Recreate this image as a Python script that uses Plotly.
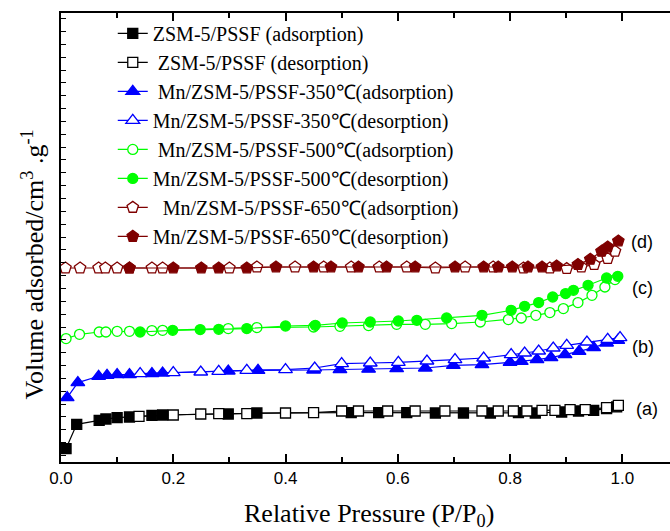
import plotly.graph_objects as go

# N2 adsorption-desorption isotherms (curves offset vertically for clarity)

# (a) ZSM-5/PSSF
a_ads_p = [0.009, 0.028, 0.068, 0.080, 0.100, 0.122, 0.162, 0.181, 0.298, 0.349, 0.517, 0.566,
           0.616, 0.667, 0.717, 0.765, 0.815, 0.845, 0.892, 0.922, 0.949, 0.972, 0.990]
a_ads_v = [13.4, 37.7, 41.7, 43.0, 44.4, 45.0, 46.7, 47.0, 48.0, 49.0, 49.4, 49.4,
           49.4, 49.0, 49.0, 49.0, 49.4, 49.0, 50.0, 51.0, 51.7, 53.4, 55.2]
a_des_p = [0.993, 0.972, 0.934, 0.907, 0.880, 0.857, 0.830, 0.806, 0.779, 0.750, 0.684,
           0.631, 0.582, 0.530, 0.500, 0.450, 0.400, 0.331, 0.281, 0.249, 0.200, 0.139]
a_des_v = [56.7, 54.4, 52.4, 52.4, 51.7, 51.7, 51.0, 51.0, 51.0, 51.0, 51.0,
           51.0, 51.0, 51.0, 51.0, 49.4, 49.0, 48.4, 48.4, 48.0, 47.0, 45.7]

# (b) Mn/ZSM-5/PSSF-350℃
b_ads_p = [0.011, 0.030, 0.067, 0.082, 0.100, 0.122, 0.162, 0.181, 0.298, 0.351, 0.450, 0.497, 0.548,
           0.598, 0.649, 0.699, 0.750, 0.800, 0.820, 0.848, 0.873, 0.898, 0.923, 0.949, 0.972, 0.992]
b_ads_v = [64.4, 79.4, 85.7, 86.7, 87.4, 87.4, 88.4, 89.0, 91.0, 91.7, 92.0, 92.4, 92.8,
           93.4, 94.0, 96.7, 97.4, 99.7, 100.7, 102.4, 104.4, 107.4, 110.7, 114.4, 119.0, 121.7]
b_des_p = [0.996, 0.974, 0.937, 0.901, 0.877, 0.851, 0.826, 0.802, 0.753, 0.702, 0.652,
           0.601, 0.551, 0.500, 0.452, 0.400, 0.331, 0.281, 0.249, 0.200, 0.141]
b_des_v = [124.4, 122.7, 120.0, 116.7, 114.0, 111.0, 109.0, 107.4, 104.0, 102.4, 101.0,
           99.7, 99.0, 98.4, 94.0, 92.4, 91.7, 90.7, 90.0, 89.4, 88.4]

# (c) Mn/ZSM-5/PSSF-500℃
c_ads_p = [0.009, 0.033, 0.068, 0.080, 0.100, 0.122, 0.162, 0.181, 0.298, 0.349, 0.450, 0.497, 0.548,
           0.598, 0.649, 0.696, 0.747, 0.797, 0.820, 0.846, 0.871, 0.895, 0.921, 0.946, 0.969, 0.987]
c_ads_v = [123.4, 127.7, 130.0, 130.0, 130.7, 130.7, 131.4, 131.7, 133.4, 134.4, 135.0, 135.7, 136.4,
           137.7, 137.7, 138.4, 140.0, 142.4, 144.0, 146.7, 149.4, 153.4, 159.4, 166.7, 175.0, 182.4]
c_des_p = [0.992, 0.972, 0.939, 0.913, 0.899, 0.876, 0.851, 0.826, 0.802, 0.750, 0.687,
           0.634, 0.601, 0.551, 0.501, 0.453, 0.400, 0.331, 0.281, 0.248, 0.199, 0.141]
c_des_v = [185.7, 184.0, 176.7, 171.7, 168.4, 165.0, 159.4, 155.7, 151.7, 146.7, 144.0,
           141.7, 141.0, 140.0, 139.0, 136.7, 136.0, 133.4, 132.7, 132.4, 131.7, 130.0]

# (d) Mn/ZSM-5/PSSF-650℃
d_ads_p = [0.008, 0.034, 0.067, 0.079, 0.100, 0.122, 0.162, 0.181, 0.300, 0.349, 0.417, 0.468, 0.517,
           0.567, 0.616, 0.667, 0.720, 0.770, 0.824, 0.871, 0.901, 0.927, 0.950, 0.974, 0.987]
d_ads_v = [194.0, 194.0, 194.0, 194.0, 194.0, 194.0, 194.0, 194.0, 194.0, 195.0, 195.0, 195.0, 195.0,
           195.0, 195.0, 194.0, 195.0, 195.0, 194.0, 194.0, 193.4, 195.0, 197.4, 203.4, 210.7]
d_des_p = [0.993, 0.974, 0.963, 0.943, 0.921, 0.883, 0.857, 0.832, 0.804, 0.779, 0.753, 0.702,
           0.631, 0.580, 0.530, 0.481, 0.450, 0.383, 0.331, 0.281, 0.250, 0.200, 0.122]
d_des_v = [221.0, 215.0, 210.7, 202.7, 197.4, 196.0, 195.0, 195.0, 195.0, 195.0, 195.0, 195.0,
           195.0, 195.0, 195.0, 195.0, 195.0, 195.0, 194.0, 194.0, 194.0, 194.0, 194.0]

series_names = [
    "ZSM-5/PSSF (adsorption)",
    "\u00a0ZSM-5/PSSF (desorption)",
    "\u00a0Mn/ZSM-5/PSSF-350℃(adsorption)",
    "Mn/ZSM-5/PSSF-350℃(desorption)",
    "\u00a0Mn/ZSM-5/PSSF-500℃(adsorption)",
    "Mn/ZSM-5/PSSF-500℃(desorption)",
    "\u00a0\u00a0Mn/ZSM-5/PSSF-650℃(adsorption)",
    "Mn/ZSM-5/PSSF-650℃(desorption)",
]
curve_labels = ["(a)", "(b)", "(c)", "(d)"]
curve_label_p = [1.021, 1.014, 1.014, 1.012]
curve_label_v = [53.4, 115.0, 173.7, 220.0]
x_ticks = [0.0, 0.2, 0.4, 0.6, 0.8, 1.0]

BLACK = "#000000"
BLUE = "#0000FF"
GREEN = "#00FF00"
DRED = "#7F0000"
SERIF = "Liberation Serif"
SANS = "Liberation Sans"

# (x, y, line colour, symbol, filled, marker size)
specs = [
    (a_ads_p, a_ads_v, BLACK, "square", True, 10),
    (a_des_p, a_des_v, BLACK, "square", False, 10),
    (b_ads_p, b_ads_v, BLUE, "triangle-up", True, 12),
    (b_des_p, b_des_v, BLUE, "triangle-up", False, 12),
    (c_ads_p, c_ads_v, GREEN, "circle", False, 10),
    (c_des_p, c_des_v, GREEN, "circle", True, 10),
    (d_ads_p, d_ads_v, DRED, "pentagon", False, 12),
    (d_des_p, d_des_v, DRED, "pentagon", True, 12),
]

fig = go.Figure()
for i, (xs, ys, col, sym, filled, size) in enumerate(specs):
    fig.add_trace(go.Scatter(
        x=xs, y=ys, name=series_names[i], mode="lines+markers",
        line=dict(color=col, width=1.2),
        marker=dict(symbol=sym, size=size,
                    color=col if filled else "white",
                    line=dict(color=col, width=1.3)),
    ))

for lab, px, pv in zip(curve_labels, curve_label_p, curve_label_v):
    fig.add_annotation(x=px, y=pv, xref="x", yref="y", text=lab, showarrow=False,
                       xanchor="left", yanchor="middle",
                       font=dict(family=SANS, size=18, color="black"))

# axis titles
fig.add_annotation(x=-0.046, y=0.44, xref="paper", yref="paper",
                   text="Volume adsorbed/cm<sup>3</sup> .g<sup>-1</sup>",
                   textangle=-90, showarrow=False, xanchor="center", yanchor="middle",
                   font=dict(family=SERIF, size=26, color="black"))
fig.add_annotation(x=0.505, y=-0.118, xref="paper", yref="paper",
                   text="Relative Pressure (P/P<sub>0</sub>)",
                   showarrow=False, xanchor="center", yanchor="middle",
                   font=dict(family=SERIF, size=26, color="black"))

fig.update_layout(
    width=670, height=531,
    margin=dict(l=61, r=0, t=13, b=69),
    paper_bgcolor="white", plot_bgcolor="white",
    showlegend=True,
    legend=dict(x=0.085, y=0.998, xanchor="left", yanchor="top",
                bgcolor="rgba(0,0,0,0)", tracegroupgap=0,
                font=dict(family=SERIF, size=20, color="black")),
    xaxis=dict(
        range=[0, 1.085], tickvals=x_ticks, ticktext=[f"{t:.1f}" for t in x_ticks],
        ticks="inside", ticklen=8, tickwidth=1.5, tickcolor="black",
        minor=dict(dtick=0.1, tick0=0, ticks="inside", ticklen=5, tickwidth=1.5, tickcolor="black"),
        showline=True, linewidth=2, linecolor="black", mirror="ticks",
        showgrid=False, zeroline=False,
        tickfont=dict(family=SANS, size=17, color="black"),
    ),
    yaxis=dict(
        range=[0, 449], showticklabels=False,
        tick0=6.5, dtick=12.85, ticks="inside", ticklen=5, tickwidth=1.2, tickcolor="black",
        showline=True, linewidth=2, linecolor="black", mirror=False,
        showgrid=False, zeroline=False,
    ),
)

fig.write_html("out.html")
